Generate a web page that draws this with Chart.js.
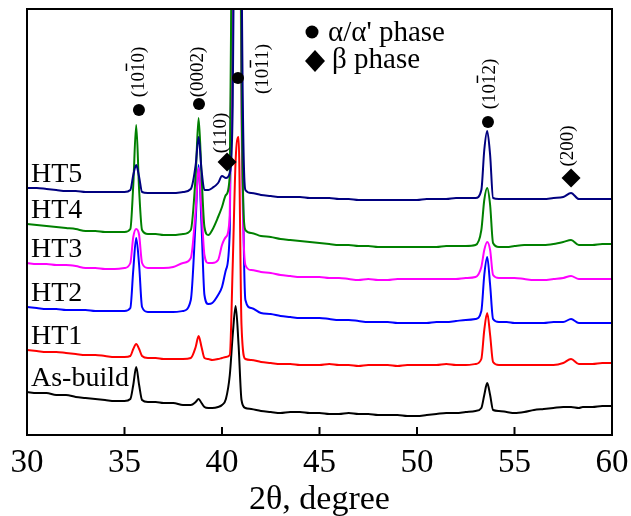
<!DOCTYPE html>
<html>
<head>
<meta charset="utf-8">
<script src="https://cdn.jsdelivr.net/npm/chart.js@4.4.1/dist/chart.umd.min.js"></script>
<style>
  body { margin: 0; background: #fff; }
  #wrap { position: relative; width: 631px; height: 516px; }
</style>
</head>
<body>
<div id="wrap"><canvas id="xrdChart"></canvas></div>
<script>
// 2-theta positions (degree)
const angles = [30, 30.5, 31, 31.5, 32, 32.5, 33, 33.5, 34, 34.5, 35,
    35.3, 35.45, 35.6, 35.75, 35.9, 36.2, 36.6,
    37, 37.5, 38,
    38.4, 38.65, 38.8, 38.95, 39.1, 39.3, 39.5, 39.8,
    40.0, 40.2, 40.4, 40.55, 40.7, 40.85, 41.0, 41.2, 41.5,
    42, 42.5, 43, 43.5, 44, 44.5, 45, 45.5, 46, 46.5, 47, 47.5, 48, 48.5, 49, 49.5, 50, 50.5, 51, 51.5, 52, 52.5, 53,
    53.3, 53.45, 53.6, 53.75, 53.9, 54.2, 54.6,
    55, 55.5, 56, 56.5, 57, 57.5,
    57.9, 58.3,
    58.5, 59, 59.5, 60];

// intensities (arbitrary units, curves already offset)
const asBuild = [43, 42, 42, 40, 40, 38, 37, 36, 35, 34, 34,
    36, 50, 68, 50, 35, 33, 33,
    32, 32, 30,
    30, 33, 36, 32, 28, 27, 27, 28,
    30, 36, 60, 100, 129, 90, 35, 27, 26,
    24, 23, 22, 23, 23, 22, 22, 21, 21, 22, 21, 21, 20, 20, 20, 19, 19, 20, 21, 22, 22, 23, 24,
    27, 40, 52, 40, 25, 24, 23,
    22, 23, 25, 26, 27, 28,
    28, 27,
    28, 28, 29, 29];
const ht1 = [85, 84, 83, 83, 82, 81, 80, 80, 79, 78, 78,
    79, 86, 91, 86, 79, 77, 77,
    76, 76, 76,
    77, 88, 99, 88, 77, 76, 75, 76,
    77, 78, 80, 170, 275, 298, 110, 76, 75,
    73, 72, 71, 71, 70, 70, 70, 71, 70, 70, 69, 70, 70, 70, 69, 70, 70, 70, 70, 71, 70, 70, 71,
    76, 105, 122, 100, 73, 70, 70,
    70, 70, 70, 70, 70, 72,
    76, 71,
    71, 71, 72, 72];
const ht2 = [128, 127, 126, 126, 125, 125, 125, 124, 124, 124, 124,
    127, 165, 197, 170, 128, 123, 123,
    123, 123, 124,
    135, 215, 270, 210, 140, 131, 132, 140,
    148, 165, 205, 540, 1000, 900, 400, 135, 127,
    122, 121, 119, 118, 117, 117, 117, 116, 115, 115, 114, 113, 113, 113, 112, 112, 112, 112, 113, 113, 114, 115, 116,
    124, 160, 178, 150, 116, 113, 113,
    112, 112, 112, 112, 113, 113,
    116, 112,
    112, 112, 112, 112];
const ht3 = [172, 171, 171, 170, 170, 169, 167, 167, 166, 166, 167,
    172, 198, 206, 200, 172, 167, 167,
    167, 168, 172,
    177, 225, 267, 225, 180, 172, 172, 175,
    190, 198, 220, 560, 1000, 800, 320, 170, 165,
    163, 162, 160, 159, 158, 158, 158, 157, 157, 156, 155, 156, 155, 155, 156, 156, 156, 156, 156, 156, 156, 157, 158,
    168, 185, 193, 185, 160, 157, 157,
    157, 156, 155, 155, 156, 157,
    159, 156,
    156, 156, 156, 156];
const ht4 = [211, 210, 209, 208, 207, 206, 204, 204, 203, 203, 203,
    206, 250, 310, 245, 205, 201, 201,
    200, 200, 201,
    205, 260, 317, 260, 208, 200, 205, 218,
    228, 240, 260, 600, 1300, 900, 350, 205, 202,
    199, 198, 196, 195, 194, 193, 192, 191, 190, 190, 189, 189, 188, 188, 188, 188, 188, 188, 188, 189, 189, 189, 190,
    205, 235, 247, 230, 192, 188, 188,
    189, 190, 190, 190, 191, 193,
    195, 190,
    190, 190, 191, 191];
const ht5 = [247, 247, 246, 245, 244, 244, 243, 243, 243, 243, 243,
    245, 260, 270, 258, 243, 242, 242,
    242, 242, 243,
    246, 270, 298, 265, 245, 245, 247, 252,
    259, 257, 262, 330, 700, 1400, 500, 245, 242,
    240, 239, 238, 238, 238, 237, 237, 237, 236, 236, 235, 235, 235, 235, 235, 235, 235, 236, 236, 236, 237, 237, 237,
    245, 285, 304, 280, 237, 236, 236,
    236, 236, 236, 236, 237, 238,
    242, 236,
    236, 236, 236, 236];

const seriesNames = ['HT5', 'HT4', 'HT3', 'HT2', 'HT1', 'As-build'];
const seriesValues = [ht5, ht4, ht3, ht2, ht1, asBuild];
const seriesColors = ['#00007f', '#008000', '#ff00ff', '#0000ff', '#ff0000', '#000000'];
const xTicks = [30, 35, 40, 45, 50, 55, 60];

// peak indexing: Miller index text, barred character, phase, marker and text anchors
const peakNotes = [
    { text: '(1010)', bar: 3, phase: 'a', mark: [35.74, 325], label: [35.69, 363] },
    { text: '(0002)', bar: -1, phase: 'a', mark: [38.82, 331], label: [38.72, 363] },
    { text: '(110)', bar: -1, phase: 'b', mark: [40.26, 273], label: [39.9, 302] },
    { text: '(1011)', bar: 3, phase: 'a', mark: [40.82, 357], label: [42.05, 366] },
    { text: '(1012)', bar: 3, phase: 'a', mark: [53.64, 313], label: [53.69, 351] },
    { text: '(200)', bar: -1, phase: 'b', mark: [57.9, 257], label: [57.69, 289] }
];

const serif = '"Liberation Serif", "Times New Roman", serif';

function dot(ctx, x, y, r) {
    ctx.beginPath();
    ctx.arc(x, y, r, 0, Math.PI * 2);
    ctx.fill();
}

function diamond(ctx, x, y, w, h) {
    ctx.beginPath();
    ctx.moveTo(x, y - h);
    ctx.lineTo(x + w, y);
    ctx.lineTo(x, y + h);
    ctx.lineTo(x - w, y);
    ctx.closePath();
    ctx.fill();
}

function verticalText(ctx, text, bar, cx, cy, size) {
    ctx.save();
    ctx.translate(cx, cy);
    ctx.rotate(-Math.PI / 2);
    ctx.font = size + 'px ' + serif;
    ctx.textAlign = 'left';
    ctx.textBaseline = 'alphabetic';
    const w = ctx.measureText(text).width;
    const x0 = -w / 2;
    const base = size * 0.33;
    ctx.fillText(text, x0, base);
    if (bar >= 0) {
        const pre = ctx.measureText(text.slice(0, bar)).width;
        const cw = ctx.measureText(text[bar]).width;
        ctx.fillRect(x0 + pre + 1, base - size * 0.66 - 6, cw - 2, 1.5);
    }
    ctx.restore();
}

const decor = {
    id: 'decor',
    afterDatasetsDraw(chart) {
        const { ctx, chartArea: a, scales: { x, y } } = chart;
        ctx.save();
        ctx.fillStyle = '#000';
        ctx.strokeStyle = '#000';

        // frame and inward ticks
        ctx.lineWidth = 2;
        ctx.strokeRect(a.left, a.top, a.right - a.left, a.bottom - a.top);
        xTicks.slice(1, -1).forEach(v => {
            const px = x.getPixelForValue(v);
            ctx.beginPath();
            ctx.moveTo(px, a.bottom);
            ctx.lineTo(px, a.bottom - 8);
            ctx.stroke();
        });

        // series names at the left end of each curve
        ctx.font = '28px ' + serif;
        ctx.textAlign = 'left';
        ctx.textBaseline = 'alphabetic';
        seriesNames.forEach((name, i) => {
            ctx.fillText(name, a.left + 4, y.getPixelForValue(seriesValues[i][0]) - 6);
        });

        // peak markers and Miller indices
        peakNotes.forEach(p => {
            const mx = x.getPixelForValue(p.mark[0]);
            const my = y.getPixelForValue(p.mark[1]);
            if (p.phase === 'a') dot(ctx, mx, my, 6);
            else diamond(ctx, mx, my, 9.5, 9.5);
            verticalText(ctx, p.text, p.bar, x.getPixelForValue(p.label[0]), y.getPixelForValue(p.label[1]), 19);
        });

        // phase key
        ctx.font = '29px ' + serif;
        dot(ctx, 312, 32, 6.5);
        ctx.fillText("\u03b1/\u03b1' phase", 328, 41);
        diamond(ctx, 315, 61, 10, 11);
        ctx.fillText('\u03b2 phase', 332, 68);

        ctx.restore();
    }
};

const ctx = document.getElementById('xrdChart').getContext('2d');
new Chart(ctx, {
    type: 'line',
    data: {
        labels: angles,
        datasets: seriesNames.map((name, i) => ({
            label: name,
            data: angles.map((a, j) => ({ x: a, y: seriesValues[i][j] })),
            borderColor: seriesColors[i],
            borderWidth: 2,
            pointRadius: 0,
            fill: false,
            cubicInterpolationMode: 'monotone'
        }))
    },
    options: {
        responsive: true,
        maintainAspectRatio: false,
        animation: false,
        layout: { padding: { left: 27, right: 19, top: 9, bottom: 0 } },
        plugins: {
            legend: { display: false },
            tooltip: { enabled: false }
        },
        scales: {
            x: {
                type: 'linear',
                min: 30,
                max: 60,
                afterBuildTicks: axis => { axis.ticks = xTicks.map(v => ({ value: v })); },
                afterFit: axis => {
                    axis.height = 81;
                    axis.paddingLeft = 0;
                    axis.paddingRight = 0;
                },
                grid: { display: false, drawTicks: false },
                border: { display: false },
                ticks: {
                    color: '#000',
                    padding: 12,
                    maxRotation: 0,
                    font: { family: serif, size: 33, lineHeight: 1 }
                },
                title: {
                    display: true,
                    text: '2\u03b8, degree',
                    color: '#000',
                    padding: { top: 2, bottom: 0 },
                    font: { family: serif, size: 34, lineHeight: 0.95 }
                }
            },
            y: {
                display: false,
                min: 0,
                max: 426
            }
        }
    },
    plugins: [decor]
});
</script>
</body>
</html>
